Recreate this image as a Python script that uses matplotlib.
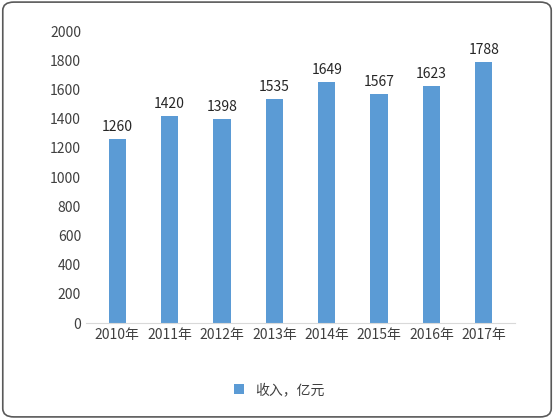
import matplotlib.pyplot as plt
from matplotlib.patches import FancyBboxPatch

plt.rcParams['font.family'] = ['Noto Sans CJK SC', 'DejaVu Sans']

years = ["2010年", "2011年", "2012年", "2013年", "2014年", "2015年", "2016年", "2017年"]
income = [1260, 1420, 1398, 1535, 1649, 1567, 1623, 1788]
yticks = list(range(0, 2001, 200))

fig = plt.figure(figsize=(5.54, 4.19), dpi=100)
fig.patches.append(FancyBboxPatch((0.005, 0.005), 0.99, 0.99, boxstyle="round,pad=0,rounding_size=0.02",
                                  transform=fig.transFigure, fill=False, edgecolor="#595959", linewidth=1.2))
ax = fig.add_axes([0.155, 0.229, 0.775, 0.697])
bars = ax.bar(years, income, width=0.33, color="#5B9BD5", label="收入，亿元")
for b, v in zip(bars, income):
    ax.text(b.get_x() + b.get_width() / 2, v + 35, str(v), ha="center", va="bottom",
            fontsize=10, color="#262626")
ax.set_ylim(0, 2000)
ax.set_yticks(yticks)
ax.set_xlim(-0.6, 7.6)
ax.tick_params(length=0, labelsize=10, colors="#404040")
for s in ["top", "right", "left"]:
    ax.spines[s].set_visible(False)
ax.spines["bottom"].set_color("#d9d9d9")
ax.legend(loc="center", bbox_to_anchor=(0.45, -0.23), frameon=False, fontsize=10,
          handlelength=0.7, handleheight=0.7, labelcolor="#404040")
fig.savefig("out.png", dpi=100)
